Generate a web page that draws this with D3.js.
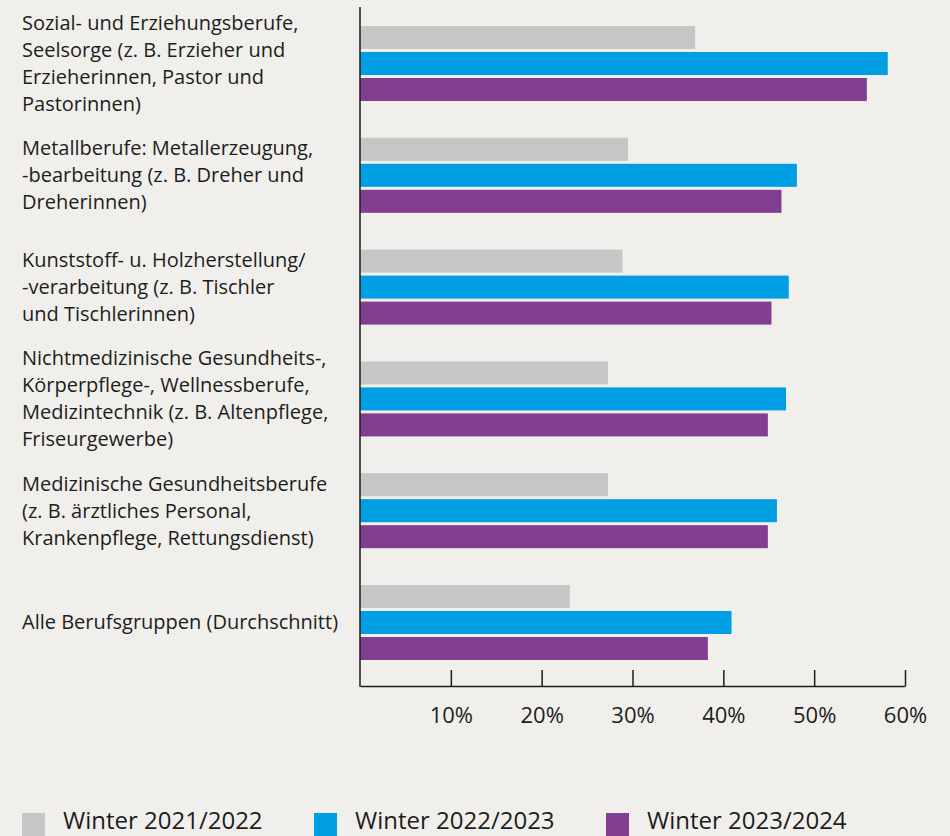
<!DOCTYPE html>
<html>
<head>
<meta charset="utf-8">
<script src="https://cdn.jsdelivr.net/npm/d3@7"></script>
<style>
  html, body { margin: 0; padding: 0; background: #f0efeb; }
  svg { display: block; }
  text { font-family: "Open Sans", "Noto Sans", sans-serif; fill: #1d1d1b; }
</style>
</head>
<body>
<div id="main"></div>
<script>
// categories, one entry per line of the label
let categories = [
  ['Sozial- und Erziehungsberufe,', 'Seelsorge (z. B. Erzieher und', 'Erzieherinnen, Pastor und', 'Pastorinnen)'],
  ['Metallberufe: Metallerzeugung,', '-bearbeitung (z. B. Dreher und', 'Dreherinnen)'],
  ['Kunststoff- u. Holzherstellung/', '-verarbeitung (z. B. Tischler', 'und Tischlerinnen)'],
  ['Nichtmedizinische Gesundheits-,', 'Körperpflege-, Wellnessberufe,', 'Medizintechnik (z. B. Altenpflege,', 'Friseurgewerbe)'],
  ['Medizinische Gesundheitsberufe', '(z. B. ärztliches Personal,', 'Krankenpflege, Rettungsdienst)'],
  ['Alle Berufsgruppen (Durchschnitt)']
];
let seriesNames = ['Winter 2021/2022', 'Winter 2022/2023', 'Winter 2023/2024'];
let seriesColors = ['#c6c6c6', '#009fe3', '#823f8f'];
let winter2122 = [36.9, 29.5, 28.9, 27.3, 27.3, 23.1];
let winter2223 = [58.1, 48.1, 47.2, 46.9, 45.9, 40.9];
let winter2324 = [55.8, 46.4, 45.3, 44.9, 44.9, 38.3];
let tickValues = [10, 20, 30, 40, 50, 60];

let [width, height] = [950, 836];
let series = [winter2122, winter2223, winter2324];
let rows = categories.map((c, i) => ({i, lines: c, values: series.map((s, k) => ({k, v: s[i]}))}));

let svg = d3.select('#main')
  .append('svg')
  .attr('width', width)
  .attr('height', height);

let x = d3.scaleLinear().domain([0, 60]).range([360, 905]);
let y = d3.scaleBand().domain(d3.range(categories.length)).range([26, 660]).paddingInner(0.329).paddingOuter(0);
let yInner = d3.scaleBand().domain(d3.range(series.length)).range([0, y.bandwidth()]).paddingInner(0.115);
let axisY = 686;

// bars
let groups = svg.selectAll('.group')
  .data(rows)
  .join('g')
  .attr('class', 'group')
  .attr('transform', d => `translate(0,${y(d.i)})`);

groups.selectAll('rect')
  .data(d => d.values)
  .join('rect')
  .attr('x', x(0))
  .attr('y', d => yInner(d.k))
  .attr('width', d => x(d.v) - x(0))
  .attr('height', yInner.bandwidth())
  .attr('fill', d => seriesColors[d.k]);

// category labels
let lineH = 27;
svg.selectAll('.catLabel')
  .data(rows)
  .join('text')
  .attr('class', 'catLabel')
  .style('font-size', '20px')
  .each(function(d){
    let cy = y(d.i) + y.bandwidth() / 2;
    let first = cy - (d.lines.length - 1) * lineH / 2 + 7;
    d3.select(this).selectAll('tspan')
      .data(d.lines)
      .join('tspan')
      .attr('x', 22)
      .attr('y', (l, j) => first + j * lineH)
      .text(l => l);
  });

// axes
let xAxis = d3.axisBottom(x)
  .tickValues(tickValues)
  .tickSizeInner(-16)
  .tickSizeOuter(0)
  .tickPadding(21)
  .tickFormat(d => d + '%');

let gx = svg.append('g')
  .attr('transform', `translate(0,${axisY})`)
  .call(xAxis);
gx.select('.domain').attr('stroke', '#1d1d1b').attr('stroke-width', 1.5);
gx.selectAll('.tick line').attr('stroke', '#1d1d1b').attr('stroke-width', 1.5);
gx.selectAll('.tick text')
  .style('font-size', '22px')
  .style('font-family', '"Open Sans", "Noto Sans", sans-serif')
  .attr('fill', '#1d1d1b');

svg.append('line')
  .attr('x1', x(0)).attr('x2', x(0))
  .attr('y1', 7).attr('y2', axisY + 0.75)
  .attr('stroke', '#1d1d1b')
  .attr('stroke-width', 1.5);

// legend (text kept a little above the bottom edge)
let legend = svg.selectAll('.legendItem')
  .data(seriesNames)
  .join('g')
  .attr('class', 'legendItem')
  .attr('transform', (d, i) => `translate(${22 + i * 292},813)`);
legend.append('rect')
  .attr('width', 23)
  .attr('height', 30)
  .attr('fill', (d, i) => seriesColors[i]);
legend.append('text')
  .attr('x', 41)
  .attr('y', 16)
  .style('font-size', '24px')
  .text(d => d);
</script>
</body>
</html>
